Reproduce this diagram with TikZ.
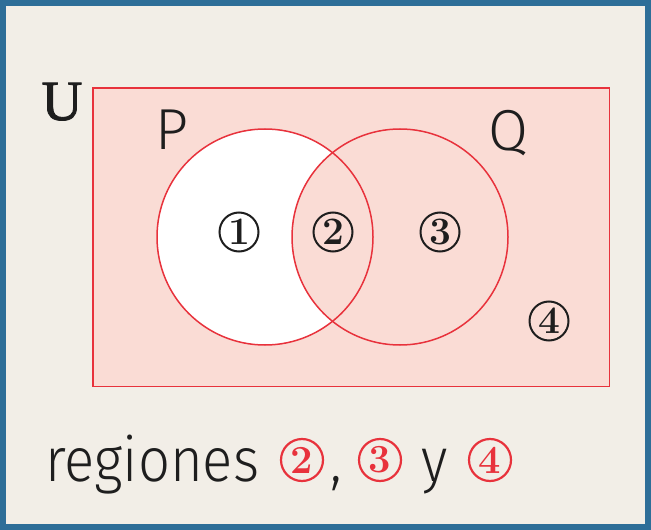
\documentclass[tikz,border=0pt]{standalone}
\usepackage{fontspec}
\newfontfamily\lsans{Fira Sans Light}
\newfontfamily\csans[FakeStretch=0.91]{Fira Sans Light}
\newfontfamily\userif[FakeBold=1.5]{Liberation Serif}
\definecolor{frameblue}{HTML}{2E6E98}
\definecolor{bgcol}{HTML}{F2EEE7}
\definecolor{pinkfill}{HTML}{FADCD5}
\definecolor{vred}{HTML}{E8323C}
\definecolor{ink}{HTML}{1E1E1E}
\begin{document}
\begin{tikzpicture}[x=1bp,y=-1bp,
  cnum/.style={circle, draw=ink, text=ink, line width=2bp, minimum size=39bp, inner sep=0pt,
    font=\fontsize{39}{39}\selectfont\bfseries},
  rnum/.style={circle, draw=vred, text=vred, line width=2.2bp, minimum size=42bp, inner sep=0pt,
    font=\fontsize{40}{40}\selectfont\bfseries},
  setlabel/.style={text=ink, inner sep=0pt, font=\lsans\fontsize{58}{58}\selectfont},
  bigtext/.style={text=ink, inner sep=0pt, font=\csans\fontsize{62}{62}\selectfont}]
\useasboundingbox (0,0) rectangle (651,530);
\fill[frameblue] (0,0) rectangle (651,530);
\fill[bgcol] (6,6) rectangle (645,524);
% universe
\node[draw=none, fill=pinkfill, minimum width=516bp, minimum height=298bp, inner sep=0pt, anchor=north west] (U) at (93,88) {};
\fill[white] (265,237) circle[radius=108];
\fill[pinkfill] (400,237) circle[radius=108];
\node[circle, draw=vred, line width=1.5bp, minimum size=216bp, inner sep=0pt] (P) at (265,237) {};
\node[circle, draw=vred, line width=1.5bp, minimum size=216bp, inner sep=0pt] (Q) at (400,237) {};
\draw[vred, line width=1.5bp] (U.north west) rectangle (U.south east);
% labels
\node[inner sep=0pt, text=ink, font=\userif\fontsize{57}{57}\selectfont, anchor=base] (Ul) at (62,120) {U};
\node[setlabel, anchor=base] (Pl) at (172,150) {P};
\node[setlabel, anchor=base] (Ql) at (508,151) {Q};
\node[cnum] (n1) at (239,232) {1};
\node[cnum] (n2) at (333,232) {2};
\node[cnum] (n3) at (440,232) {3};
\node[cnum] (n4) at (549,321) {4};
% caption
\node[bigtext, anchor=base west] (reg) at (45,481) {regiones};
\node[rnum] (r2) at (302,460) {2};
\node[bigtext, anchor=base] (comma) at (336,481) {,};
\node[rnum] (r3) at (380,460) {3};
\node[bigtext, anchor=base] (y) at (435,481) {y};
\node[rnum] (r4) at (490,460) {4};
\end{tikzpicture}
\end{document}
